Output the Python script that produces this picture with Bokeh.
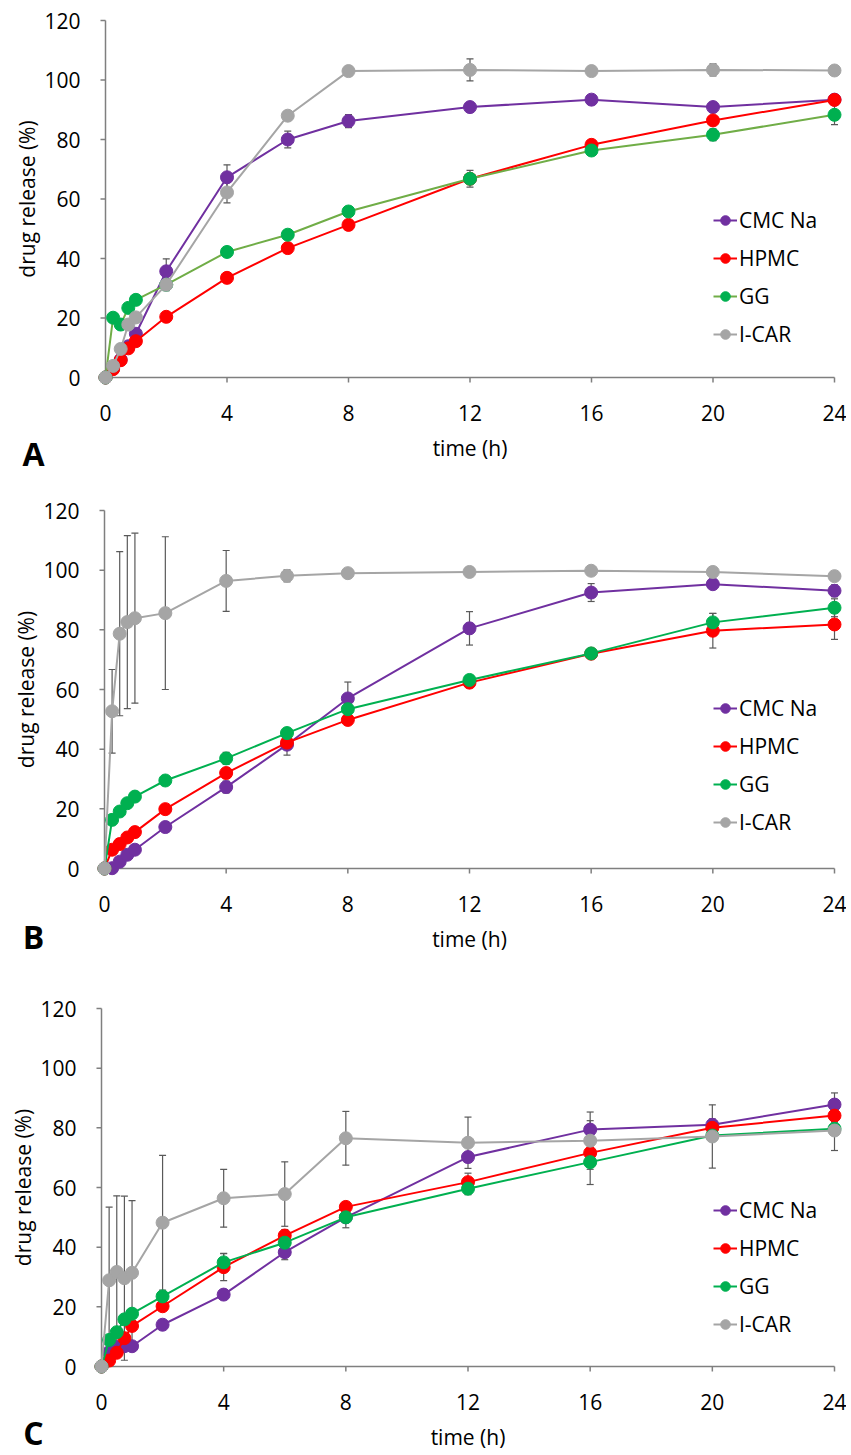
import math
from bokeh.plotting import figure
from bokeh.layouts import column
from bokeh.models import (Range1d, ColumnDataSource, Whisker, TeeHead, Label,
                          Legend, LegendItem)
from bokeh.core.properties import value
from bokeh.embed import file_html
from bokeh.resources import INLINE

# ---------------- data ----------------
time_h = [0, 0.25, 0.5, 0.75, 1, 2, 4, 6, 8, 12, 16, 20, 24]
x_ticks = [0, 4, 8, 12, 16, 20, 24]
y_ticks = [0, 20, 40, 60, 80, 100, 120]
series_names = ["CMC Na", "HPMC", "GG", "I-CAR"]
panel_letters = ["A", "B", "C"]
x_title = "time (h)"
y_title = "drug release (%)"

# Panel A
a_cmc = [0, 3.0, 6.0, 10.5, 14.7, 35.7, 67.3, 80.0, 86.2, 90.9, 93.4, 90.9, 93.4]
a_cmc_sd = [0, 0.5, 0.5, 0.5, 1, 4.2, 4.2, 2.8, 2.2, 1.5, 1, 1, 1]
a_hpmc = [0, 2.8, 5.8, 9.8, 12.2, 20.4, 33.5, 43.5, 51.3, 66.8, 78.2, 86.4, 93.3]
a_hpmc_sd = [0, 0.5, 0.5, 0.5, 0.5, 1, 1, 1, 1, 1.5, 1, 1, 1]
a_gg = [0, 20.1, 17.8, 23.4, 26.1, 31.2, 42.2, 48.0, 55.8, 66.8, 76.3, 81.6, 88.3]
a_gg_sd = [0, 1, 1, 1, 1, 1, 1, 1, 1, 2.8, 1.5, 2, 3.3]
a_icar = [0, 3.9, 9.6, 17.8, 20.2, 31.2, 62.2, 88.0, 103.0, 103.4, 103.0, 103.4, 103.2]
a_icar_sd = [0, 0.5, 0.5, 1, 1, 2, 3.5, 1.5, 1.5, 3.7, 1, 2, 1]

# Panel B
b_cmc = [0, 0.1, 2.3, 4.6, 6.3, 13.9, 27.3, 41.5, 57.0, 80.5, 92.5, 95.3, 93.1]
b_cmc_sd = [0, 0.5, 0.5, 0.5, 0.5, 1, 2, 3.5, 5.5, 5.6, 3, 1, 2]
b_hpmc = [0, 6.3, 8.2, 10.4, 12.2, 19.9, 32.0, 42.2, 49.8, 62.3, 72.0, 79.7, 81.8]
b_hpmc_sd = [0, 0.5, 0.5, 0.5, 0.5, 1, 1, 1, 1, 1, 1.5, 5.8, 5]
b_gg = [0, 16.3, 19.1, 21.9, 24.1, 29.5, 36.9, 45.4, 53.4, 63.2, 72.1, 82.5, 87.4]
b_gg_sd = [0, 1, 1, 1, 1.5, 1, 2, 1, 1, 1, 1.5, 3, 3]
b_icar = [0, 52.7, 78.7, 82.6, 83.9, 85.6, 96.4, 98.1, 99.0, 99.4, 99.8, 99.4, 98.0]
b_icar_sd = [0, 14, 27.5, 29, 28.5, 25.6, 10.2, 2, 1, 1.5, 1, 1, 1]

# Panel C
c_cmc = [0, 4.8, 6.5, 6.8, 6.8, 14.0, 24.1, 38.3, 50.0, 70.2, 79.4, 81.0, 87.8]
c_cmc_sd = [0, 1, 1, 1, 1, 1, 1, 2.5, 3.5, 1.5, 3, 2, 3.9]
c_hpmc = [0, 2.0, 4.6, 9.5, 13.6, 20.2, 33.3, 43.9, 53.5, 61.8, 71.6, 80.0, 84.1]
c_hpmc_sd = [0, 0.5, 0.5, 1, 1, 1, 4.5, 2, 1, 3, 2, 2, 2]
c_gg = [0, 8.9, 11.5, 15.8, 17.7, 23.5, 34.9, 41.5, 50.0, 59.6, 68.5, 77.4, 79.7]
c_gg_sd = [0, 1, 1, 1, 1, 1, 3, 1, 1, 2, 7.5, 1.5, 2]
c_icar = [0, 28.9, 31.7, 29.6, 31.4, 48.2, 56.4, 57.8, 76.5, 75.0, 75.7, 77.1, 79.1]
c_icar_sd = [0, 24.5, 25.5, 27.5, 24.2, 22.6, 9.7, 10.8, 9, 8.6, 9.6, 10.6, 6.7]

# ---------------- style / layout ----------------
marker_colors = ["#7030A0", "#FF0000", "#00B050", "#A5A5A5"]
line_colors_a = ["#7030A0", "#FF0000", "#70AD47", "#A5A5A5"]
line_colors_bc = ["#7030A0", "#FF0000", "#00B050", "#A5A5A5"]
FONT = "Open Sans"
FS = "21px"
AXIS_COLOR = "#7F7F7F"
ERR_COLOR = "#595959"
FIG_W = 846
PAGE_LEFT = 0
TICK_LEN = 5


def make_panel(letter, means, sds, line_colors, fig_top, fig_h,
               x0_px, x24_px, y0_px, y120_px, legend_bottom_px,
               xlab_dy, title_dy, letter_dy):
    xmax = x_ticks[-1]
    ymax = y_ticks[-1]
    sx = (x24_px - x0_px) / xmax
    sy = (y0_px - y120_px) / ymax
    xr = Range1d(-(x0_px - PAGE_LEFT) / sx, xmax + (PAGE_LEFT + FIG_W - x24_px) / sx)
    yr = Range1d(-(fig_top + fig_h - y0_px) / sy, ymax + (y120_px - fig_top) / sy)
    p = figure(width=FIG_W, height=fig_h, x_range=xr, y_range=yr,
               output_backend="svg", toolbar_location=None,
               x_axis_location=None, y_axis_location=None,
               min_border=0, outline_line_color=None)
    p.xgrid.visible = False
    p.ygrid.visible = False

    # axes lines and tick marks
    p.segment(x0=[0, 0], y0=[0, 0], x1=[0, xmax], y1=[ymax, 0],
              line_color=AXIS_COLOR, line_width=1.5)
    p.segment(x0=[0] * len(y_ticks), y0=y_ticks,
              x1=[-TICK_LEN / sx] * len(y_ticks), y1=y_ticks,
              line_color=AXIS_COLOR, line_width=1.5)
    p.segment(x0=x_ticks, y0=[0] * len(x_ticks),
              x1=x_ticks, y1=[-TICK_LEN / sy] * len(x_ticks),
              line_color=AXIS_COLOR, line_width=1.5)
    # tick labels
    p.text(x=[0] * len(y_ticks), y=y_ticks, text=[str(v) for v in y_ticks],
           x_offset=-25, text_align="right", text_baseline="middle",
           text_font=value(FONT), text_font_size=value(FS), text_color="#000000")
    p.text(x=x_ticks, y=[0] * len(x_ticks), text=[str(v) for v in x_ticks],
           y_offset=xlab_dy, text_align="center", text_baseline="middle",
           text_font=value(FONT), text_font_size=value(FS), text_color="#000000")

    items = []
    for name, m, s, lc, mc in zip(series_names, means, sds, line_colors, marker_colors):
        src = ColumnDataSource(dict(t=time_h, y=m,
                                    lo=[a - b for a, b in zip(m, s)],
                                    hi=[a + b for a, b in zip(m, s)]))
        w = Whisker(base="t", lower="lo", upper="hi", source=src,
                    line_color=ERR_COLOR, line_width=1.2,
                    upper_head=TeeHead(size=7, line_color=ERR_COLOR, line_width=1.2),
                    lower_head=TeeHead(size=7, line_color=ERR_COLOR, line_width=1.2))
        p.add_layout(w)
        ln = p.line("t", "y", source=src, line_color=lc, line_width=2)
        sc = p.scatter("t", "y", source=src, size=13, fill_color=mc, line_color=mc)
        items.append(LegendItem(label=name, renderers=[ln, sc]))

    leg = Legend(items=items, location=(713 - PAGE_LEFT, fig_top + fig_h - legend_bottom_px),
                 label_text_font=FONT, label_text_font_size=FS,
                 label_text_color="#000000",
                 glyph_width=24, glyph_height=26, label_height=26,
                 label_standoff=2, spacing=10, padding=0, margin=0,
                 border_line_color=None, background_fill_alpha=0)
    p.add_layout(leg)

    p.add_layout(Label(x=0, y=ymax / 2, x_offset=-79,
                       text=y_title, angle=math.pi / 2,
                       text_align="center", text_baseline="middle",
                       text_font=FONT, text_font_size=FS, text_color="#000000"))
    p.add_layout(Label(x=xmax / 2, y=0, y_offset=-title_dy,
                       text=x_title, text_align="center", text_baseline="middle",
                       text_font=FONT, text_font_size=FS, text_color="#000000"))
    p.add_layout(Label(x=0, y=0, x_offset=33 - x0_px, y_offset=-letter_dy,
                       text=letter, text_align="center", text_baseline="middle",
                       text_font=FONT, text_font_size="32px", text_font_style="bold",
                       text_color="#000000"))
    return p


pa = make_panel(panel_letters[0], [a_cmc, a_hpmc, a_gg, a_icar],
                [a_cmc_sd, a_hpmc_sd, a_gg_sd, a_icar_sd], line_colors_a,
                0, 498, 105, 834, 377, 20, 348, 35, 70, 76)
pb = make_panel(panel_letters[1], [b_cmc, b_hpmc, b_gg, b_icar],
                [b_cmc_sd, b_hpmc_sd, b_gg_sd, b_icar_sd], line_colors_bc,
                498, 496, 104, 834, 868, 510, 836, 35, 70, 68)
pc = make_panel(panel_letters[2], [c_cmc, c_hpmc, c_gg, c_icar],
                [c_cmc_sd, c_hpmc_sd, c_gg_sd, c_icar_sd], line_colors_bc,
                994, 461, 101, 834, 1366, 1008, 1338, 35, 70, 66)

layout = column(pa, pb, pc, spacing=0)
open("out.html", "w").write(file_html(layout, INLINE))
